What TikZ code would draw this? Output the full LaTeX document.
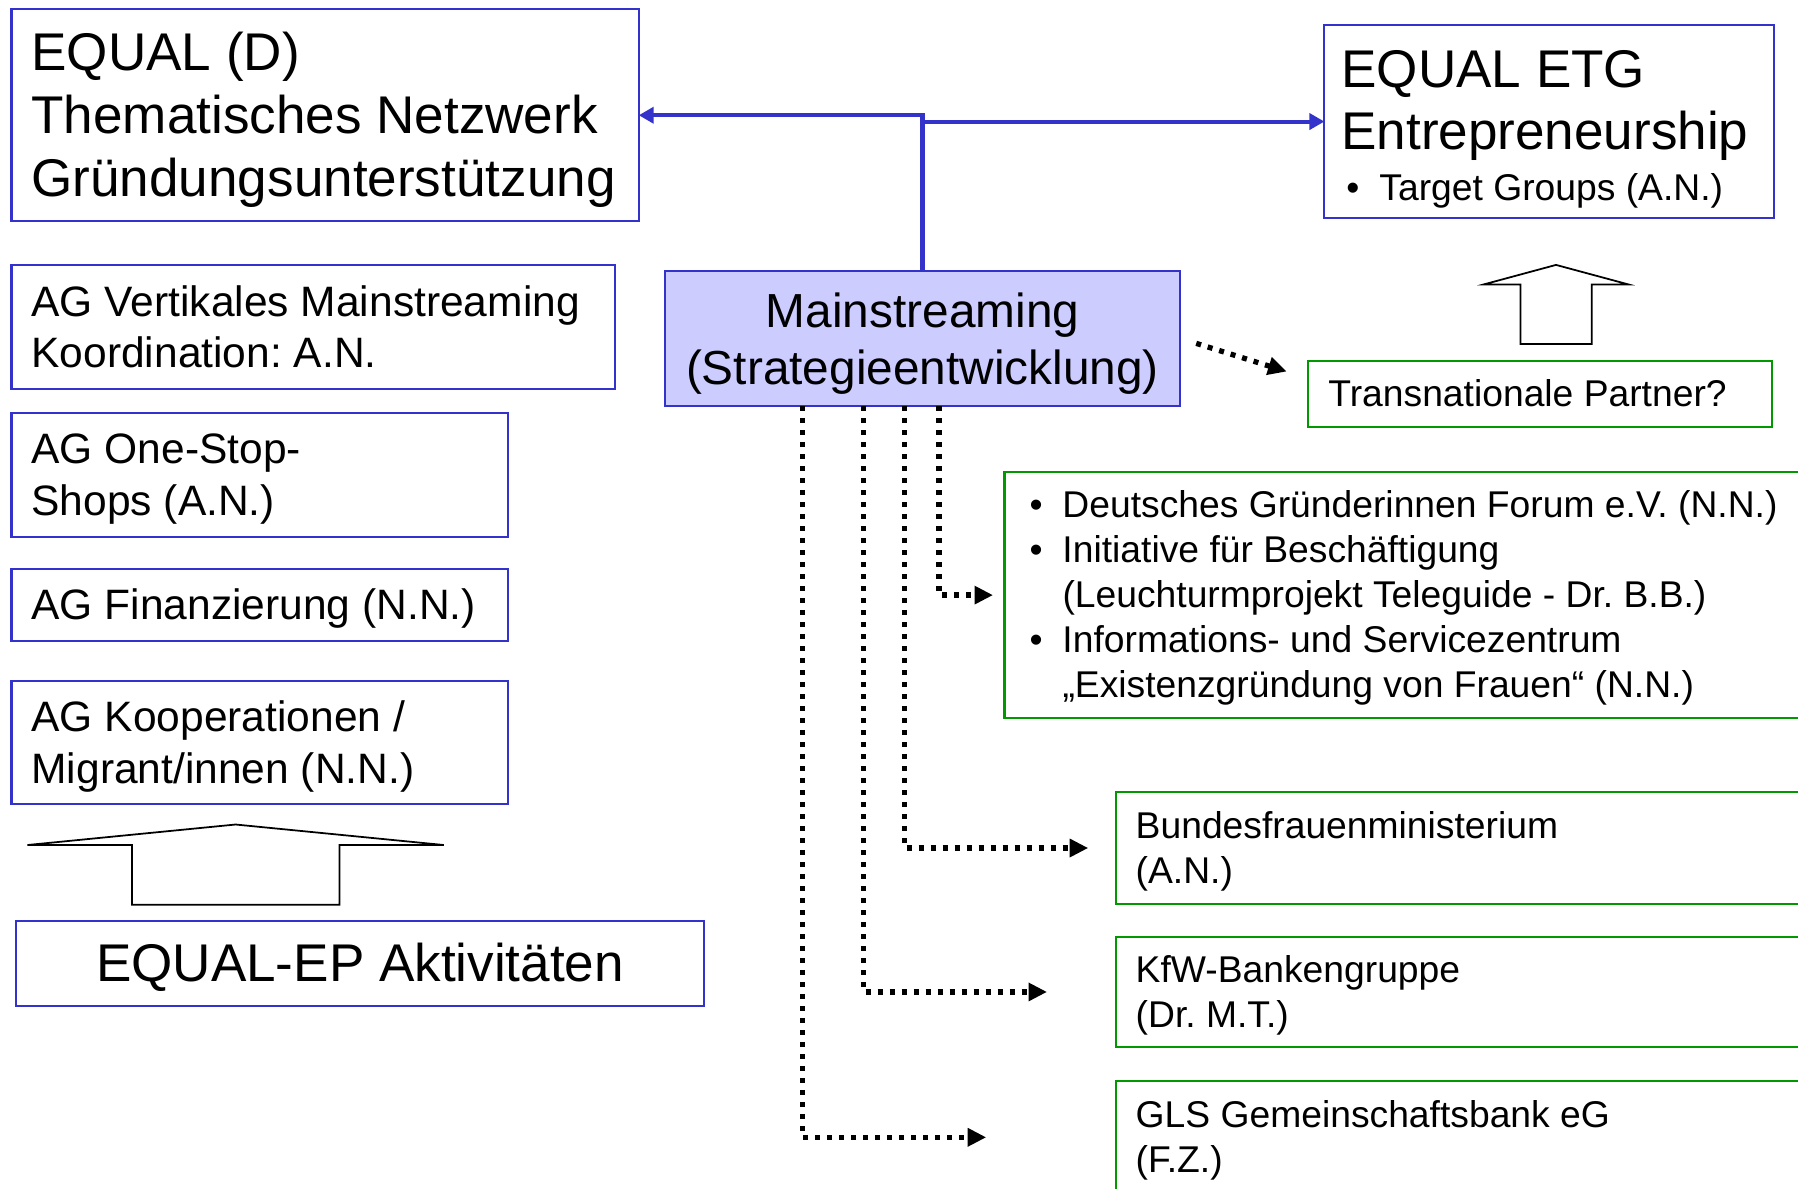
\documentclass[tikz,border=0pt]{standalone}
\usepackage{fontspec}
\setmainfont{Liberation Sans}
\usepackage{tikz}
\usetikzlibrary{arrows.meta}
\usetikzlibrary{positioning}

\definecolor{epblue}{RGB}{51,51,204}
\definecolor{msfill}{RGB}{204,204,255}
\definecolor{epgreen}{RGB}{0,153,0}

\newcommand{\bigfnt}{\fontsize{15.1pt}{17.9pt}\selectfont}
\newcommand{\msfnt}{\fontsize{13.6pt}{16.3pt}\selectfont}
\newcommand{\midfnt}{\fontsize{12.1pt}{14.7pt}\selectfont}
\newcommand{\smlfnt}{\fontsize{10.6pt}{12.8pt}\selectfont}
\newcommand{\blt}{\makebox[3.3mm][l]{\textbullet}}
\newcommand{\ind}{\hspace*{3.3mm}}
\newcommand{\topstrut}{\spaceskip=0pt\xspaceskip=0pt\rule{0pt}{0.9em}}
\newcommand{\botstrut}{\rule[-0.21em]{0pt}{0pt}}
\hyphenpenalty=10000
\frenchspacing

\begin{document}
\begin{tikzpicture}[x=0.1mm,y=-0.1mm,
  blue box/.style={draw=epblue,line width=0.6pt,outer sep=0pt,inner xsep=2mm,inner ysep=0pt,align=left,anchor=north west,
    execute at begin node=\topstrut,execute at end node=\botstrut},
  green box/.style={blue box,draw=epgreen,font=\smlfnt},
  link/.style={draw=epblue,line width=1.15pt,-{Triangle[length=1.5mm,width=1.6mm]}},
  dots/.style={line width=1.5pt,dash pattern=on 0.5mm off 0.7mm,-{Triangle[length=1.85mm,width=1.75mm]}},
  big arrow/.style={draw,line width=0.5pt,line join=miter}]

  \useasboundingbox (0,0) rectangle (1798,1188);
  \clip (0,0) rectangle (1798,1188);

  % left column
  \node[blue box,font=\bigfnt,text width=58.72mm,minimum height=21.21mm] (eqd) at (11.5,9.2)
    {EQUAL (D)\\Thematisches Netzwerk\\Gründungsunterstützung};
  \node[blue box,font=\midfnt,text width=56.31mm,minimum height=12.38mm] (agv) [below=4.4mm of eqd.south west,anchor=north west]
    {AG Vertikales Mainstreaming\\Koordination: A.N.};
  \node[blue box,font=\midfnt,text width=45.65mm,minimum height=12.39mm] (ago) [below=2.41mm of agv.south west,anchor=north west]
    {AG One-Stop-\\Shops (A.N.)};
  \node[blue box,font=\midfnt,text width=45.65mm,minimum height=7.22mm] (agf) [below=3.21mm of ago.south west,anchor=north west]
    {AG Finanzierung (N.N.)};
  \node[blue box,font=\midfnt,text width=45.65mm,minimum height=12.28mm] (agk) [below=4.0mm of agf.south west,anchor=north west]
    {AG Kooperationen /\\Migrant/innen (N.N.)};
  \node[blue box,font=\bigfnt,align=center,minimum width=68.8mm,minimum height=8.49mm] (epa) at (16,920.8)
    {EQUAL-EP Aktivitäten};

  \draw[big arrow] (131.9,904.7) -- (131.9,845) -- (27.5,845) -- (235.6,824.5) -- (443.8,845)
    -- (339.4,845) -- (339.4,904.7) -- cycle;

  % centre and right
  \node[blue box,fill=msfill,font=\msfnt,align=center,minimum width=51.5mm,minimum height=13.54mm] (ms) at (665,270.6)
    {\rule{0pt}{0.95em}Mainstreaming\\(Strategieentwicklung)};
  \node[blue box,font=\bigfnt,inner xsep=1.7mm,text width=41.56mm,minimum height=19.27mm] (etg) at (1324.4,25.2)
    {\rule{0pt}{1.05em}EQUAL ETG\\Entrepreneurship\\[-3.5pt]{\smlfnt\spaceskip=0pt\hspace*{0.5mm}\blt Target Groups (A.N.)}};
  \node[green box,text width=42.33mm,minimum height=6.54mm] (tp) at (1308.4,361.2) {Transnationale Partner?};

  \draw[big arrow] (1520.5,344) -- (1520.5,284.4) -- (1483.8,284.4) -- (1556,264.9) -- (1628.3,284.4)
    -- (1591.6,284.4) -- (1591.6,344) -- cycle;

  \node[green box,inner xsep=2.5mm,text width=80mm,minimum height=24.54mm] (lst) at (1004.5,472.4)
    {\blt Deutsches Gründerinnen Forum e.V. (N.N.)\\
     \blt Initiative für Beschäftigung\\
     \ind (Leuchturmprojekt Teleguide - Dr. B.B.)\\
     \blt Informations- und Servicezentrum\\
     \ind „Existenzgründung von Frauen“ (N.N.)};
  \node[green box,text width=66mm,minimum height=11.12mm] (bfm) at (1115.7,792.4) {Bundesfrauenministerium\\(A.N.)};
  \node[green box,text width=66mm,minimum height=11.01mm] (kfw) [below=3.33mm of bfm.south west,anchor=north west] {KfW-Bankengruppe\\(Dr. M.T.)};
  \node[green box,text width=66mm,minimum height=11.2mm] (gls) [below=3.43mm of kfw.south west,anchor=north west] {GLS Gemeinschaftsbank eG\\(F.Z.)};

  \coordinate (tpin) at (1286.6,371.5);

  \draw[link] (ms.north) |- (eqd.east);
  \draw[link] (ms.north) |- (etg.west);

  \draw[dots,shorten <=1.7mm] (ms.east) -- (tpin);
  \draw[dots,shorten >=1.15mm] ([xshift=1.66mm]ms.south) |- (lst.west);
  \draw[dots,shorten >=2.75mm] ([xshift=-1.78mm]ms.south) |- (bfm.west);
  \draw[dots,shorten >=6.87mm] ([xshift=-5.9mm]ms.south) |- (kfw.west);
  \draw[dots,shorten >=12.95mm] ([xshift=-11.98mm]ms.south) |- (gls.west);
\end{tikzpicture}
\end{document}
